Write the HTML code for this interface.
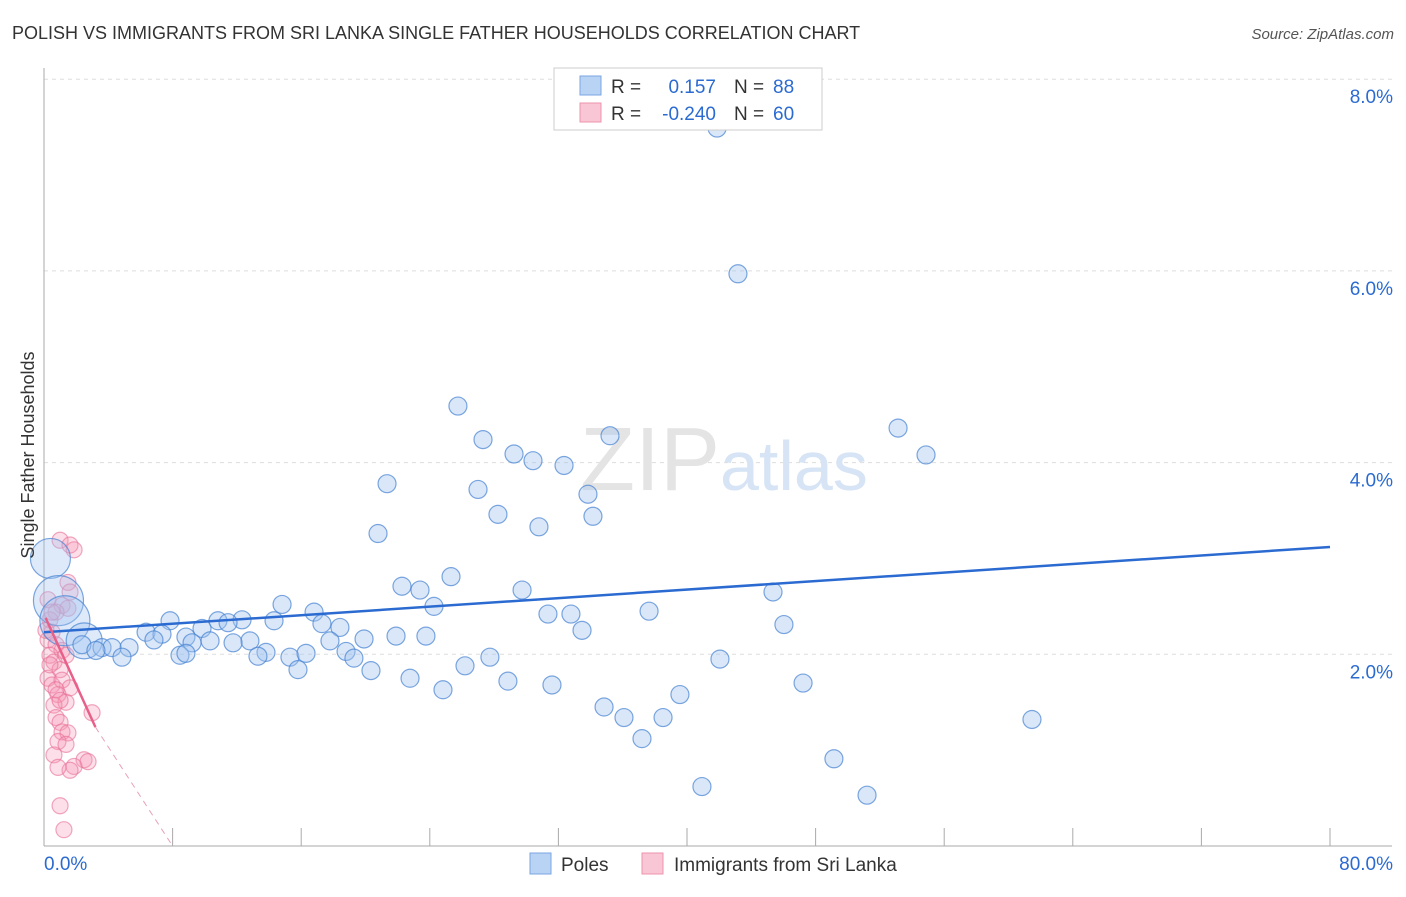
<!DOCTYPE html>
<html><head><meta charset="utf-8"><style>
body{margin:0;background:#fff;font-family:"Liberation Sans",sans-serif}
svg text{font-family:"Liberation Sans",sans-serif}
</style></head><body>
<svg width="1406" height="892">
<text x="12" y="39" font-size="18" fill="#333">POLISH VS IMMIGRANTS FROM SRI LANKA SINGLE FATHER HOUSEHOLDS CORRELATION CHART</text>
<text x="1394" y="39" font-size="15" fill="#555" font-style="italic" text-anchor="end">Source: ZipAtlas.com</text>
<g id="grid"></g>
<text x="720" y="490" font-size="90" fill="#e4e4e4" text-anchor="end" font-family="Liberation Serif">ZIP</text>
<text x="720" y="490" font-size="70" fill="#d6e4f5">atlas</text>
<g id="marks"></g>
<text x="34" y="455" font-size="18" fill="#333" text-anchor="middle" transform="rotate(-90 34 455)">Single Father Households</text>
<g>
<rect x="554" y="68" width="268" height="62" fill="#fff" stroke="#ccc"/>
<rect x="580" y="76" width="21" height="19" fill="#b9d3f5" stroke="#7aa6e0"/>
<rect x="580" y="103" width="21" height="19" fill="#f9c6d5" stroke="#ee93ad"/>
<text x="611" y="93" font-size="19" fill="#333">R =</text><text x="716" y="93" font-size="19" fill="#2b6bd1" text-anchor="end">0.157</text>
<text x="734" y="93" font-size="19" fill="#333">N =</text><text x="773" y="93" font-size="19" fill="#2b6bd1">88</text>
<text x="611" y="120" font-size="19" fill="#333">R =</text><text x="716" y="120" font-size="19" fill="#2b6bd1" text-anchor="end">-0.240</text>
<text x="734" y="120" font-size="19" fill="#333">N =</text><text x="773" y="120" font-size="19" fill="#2b6bd1">60</text>
</g>
<g>
<rect x="530" y="853" width="21" height="21" fill="#b9d3f5" stroke="#7aa6e0"/>
<text x="561" y="871" font-size="19" fill="#333">Poles</text>
<rect x="642" y="853" width="21" height="21" fill="#f9c6d5" stroke="#ee93ad"/>
<text x="674" y="871" font-size="19" fill="#333">Immigrants from Sri Lanka</text>
</g>
<text x="44" y="870" font-size="19" fill="#2b6bd1">0.0%</text>
<text x="1393" y="870" font-size="19" fill="#2b6bd1" text-anchor="end">80.0%</text>
</svg>
<script>
const yTicks=[2,4,6,8];
const xTicks=[8,16,24,32,40,48,56,64,72,80];
const poleX=[treat(717),treat(738),treat(458),treat(898),treat(483),treat(610),treat(926),treat(514),treat(533),treat(564),treat(387),treat(478),treat(588),treat(498),treat(593),treat(539),treat(378),treat(451),treat(402),treat(420),treat(522),treat(282),treat(434),treat(314),treat(548),treat(571),treat(649),treat(773),treat(170),treat(218),treat(242),treat(228),treat(274),treat(322),treat(340),treat(582),treat(784),treat(146),treat(162),treat(202),treat(186),treat(396),treat(426),treat(364),treat(250),treat(210),treat(192),treat(233),treat(330),treat(154),treat(129),treat(102),treat(112),treat(82),treat(96),treat(122),treat(180),treat(186),treat(266),treat(258),treat(290),treat(306),treat(346),treat(354),treat(490),treat(720),treat(465),treat(298),treat(371),treat(410),treat(508),treat(552),treat(443),treat(803),treat(680),treat(604),treat(624),treat(663),treat(1032),treat(642),treat(834),treat(702),treat(867)];
function treat(p){return +((p-44)/16.075).toFixed(2);}
function tv(p){return +((846-p)/95.85).toFixed(2);}
const poleY=[tv(128),tv(274),tv(406),tv(428),tv(440),tv(436),tv(455),tv(454),tv(461),tv(465),tv(484),tv(489),tv(494),tv(514),tv(516),tv(527),tv(534),tv(577),tv(586),tv(590),tv(590),tv(604),tv(606),tv(612),tv(614),tv(614),tv(611),tv(592),tv(621),tv(621),tv(620),tv(623),tv(621),tv(624),tv(627),tv(630),tv(625),tv(632),tv(634),tv(628),tv(637),tv(636),tv(636),tv(639),tv(641),tv(641),tv(643),tv(643),tv(641),tv(640),tv(648),tv(648),tv(648),tv(645),tv(650),tv(657),tv(655),tv(653),tv(652),tv(656),tv(657),tv(653),tv(651),tv(658),tv(657),tv(659),tv(666),tv(670),tv(671),tv(678),tv(681),tv(685),tv(690),tv(683),tv(695),tv(707),tv(718),tv(718),tv(719),tv(739),tv(759),tv(787),tv(795)];
const bigX=[0.4,0.9,1.3,2.5], bigY=[3.0,2.56,2.35,2.14], bigR=[20,25,25,18];
const lankaX=[60,70,74,68,70,62,68,56,50,52,48,56,62,50,54,66,60,48,52,62,70,58,66,54,56,60,92,62,68,58,66,54,84,88,74,70,58,60,64,48,46,50,56,60,52].map(treat);
const lankaY=[540,545,550,582,592,605,608,612,620,632,640,645,650,655,662,655,670,678,685,680,688,695,702,705,718,722,713,732,733,742,744,755,760,762,766,770,767,806,830,600,630,665,690,700,612].map(tv);
const poleTrend=[[0,2.23],[80,3.12]];
const lankaTrend=[[0.1,2.38],[3.2,1.24],[8,0.0]];
const X=v=>44+v*16.075, Y=v=>846-v*95.85;
const NS='http://www.w3.org/2000/svg';
function mk(t,a,p){const e=document.createElementNS(NS,t);for(const k in a)e.setAttribute(k,a[k]);p.appendChild(e);return e;}
const g=document.getElementById('grid'), m=document.getElementById('marks');
yTicks.forEach(t=>{const l=mk('line',{x1:44,x2:1392,y1:Y(t),y2:Y(t),stroke:'#ddd','stroke-dasharray':'4,4'},g);


const tx=mk('text',{x:1393,y:Y(t)+24,'font-size':19,fill:'#2b6bd1','text-anchor':'end'},g);tx.textContent=t.toFixed(1)+'%';

});
mk('line',{x1:44,x2:44,y1:68,y2:846,stroke:'#aaa'},g);
mk('line',{x1:44,x2:1392,y1:846,y2:846,stroke:'#aaa'},g);
xTicks.forEach(t=>{const l=mk('line',{x1:X(t),x2:X(t),y1:828,y2:846,stroke:'#aaa'},g);

});
lankaX.forEach((x,i)=>{const c=mk('circle',{cx:X(x),cy:Y(lankaY[i]),r:8,fill:'rgba(244,150,180,0.3)',stroke:'rgba(232,110,150,0.6)','stroke-width':1.2},m);

});
bigX.forEach((x,i)=>{const c=mk('circle',{cx:X(x),cy:Y(bigY[i]),r:bigR[i],fill:'rgba(160,195,240,0.35)',stroke:'rgba(70,130,210,0.7)','stroke-width':1.2},m);

});
poleX.forEach((x,i)=>{const c=mk('circle',{cx:X(x),cy:Y(poleY[i]),r:9,fill:'rgba(160,195,240,0.4)',stroke:'rgba(70,130,210,0.7)','stroke-width':1.2},m);

});
const pl=mk('line',{x1:X(poleTrend[0][0]),y1:Y(poleTrend[0][1]),x2:X(poleTrend[1][0]),y2:Y(poleTrend[1][1]),stroke:'#2b6bd1','stroke-width':2.5},m);


const ll=mk('line',{x1:X(lankaTrend[0][0]),y1:Y(lankaTrend[0][1]),x2:X(lankaTrend[1][0]),y2:Y(lankaTrend[1][1]),stroke:'#e8608a','stroke-width':2.5},m);


const ld=mk('line',{x1:X(lankaTrend[1][0]),y1:Y(lankaTrend[1][1]),x2:X(lankaTrend[2][0]),y2:Y(lankaTrend[2][1]),stroke:'#e8a0b8','stroke-width':1,'stroke-dasharray':'6,5'},m);


</script>
</body></html>
